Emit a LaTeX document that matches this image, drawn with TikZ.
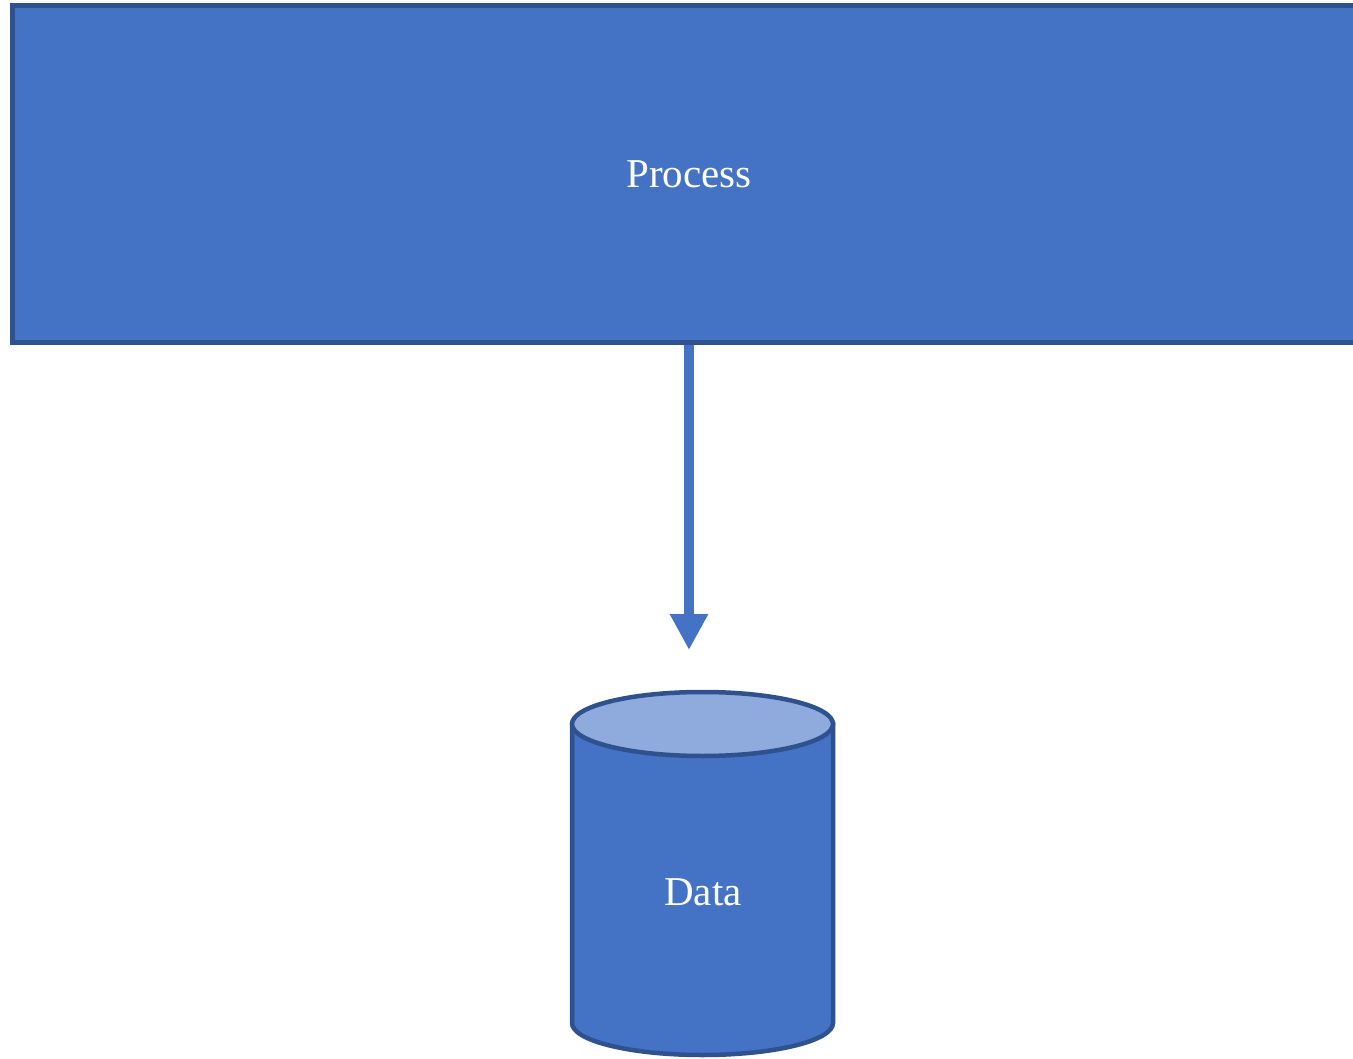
\documentclass[tikz,border=0pt]{standalone}
\usepackage{fontspec}
\setmainfont{Liberation Serif}
\usetikzlibrary{arrows.meta}
\definecolor{boxfill}{HTML}{4472C4}
\definecolor{boxline}{HTML}{2F528F}
\definecolor{topfill}{HTML}{8FAADC}
\tikzset{
  procbox/.style={draw=boxline, fill=boxfill, line width=4.5pt, rectangle, inner sep=0pt,
    text=white, font=\fontsize{41}{46}\selectfont},
  datalabel/.style={text=white, font=\fontsize{41}{46}\selectfont, inner sep=0pt},
  cylline/.style={draw=boxline, line width=4.5pt},
  flow/.style={draw=boxfill, line width=10pt, -{Triangle[length=36pt,width=36pt]}},
}
\begin{document}
\begin{tikzpicture}[x=1pt,y=-1pt]
\clip (0,0) rectangle (1353,1059);
\fill[white] (0,0) rectangle (1353,1059);
% Process box
\node[procbox, minimum width=1353pt, minimum height=337pt, text depth=0pt] (process) at (689,174) {Process};
% Cylinder
\path[cylline, fill=boxfill] (572,724) -- (572,1023)
  arc[start angle=180, end angle=0, x radius=130.5, y radius=32] -- (833,724) -- cycle;
\path[cylline, fill=topfill] (702.5,724) ellipse[x radius=130.5, y radius=32];
\node[datalabel] (data) at (703,892) {Data};
\coordinate (arrowend) at (689,650);
% Connector
\draw[flow] (process.south) -- (arrowend);
\end{tikzpicture}
\end{document}
